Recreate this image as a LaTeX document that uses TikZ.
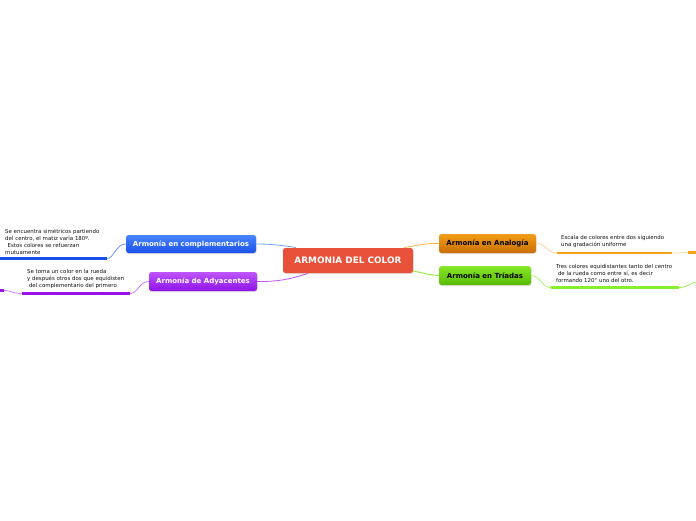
\documentclass[tikz,border=0pt]{standalone}
\usepackage{fontspec}
\setmainfont{DejaVu Sans}
\usetikzlibrary{shadows,calc}
\definecolor{rootc}{HTML}{E8523A}
\definecolor{bluetop}{HTML}{4A86FF}
\definecolor{bluebot}{HTML}{1A50EA}
\definecolor{purtop}{HTML}{BE55FF}
\definecolor{purbot}{HTML}{8E12E6}
\definecolor{orgtop}{HTML}{F29E18}
\definecolor{orgbot}{HTML}{C96E00}
\definecolor{grntop}{HTML}{88E82A}
\definecolor{grnbot}{HTML}{58BA00}
\definecolor{blueline}{HTML}{1A4FE8}
\definecolor{purline}{HTML}{9B12E8}
\definecolor{orgline}{HTML}{F7A11A}
\definecolor{grnline}{HTML}{86F02A}
\definecolor{txt}{HTML}{111111}
\tikzset{
  boxbase/.style={rounded corners=2.5pt, inner sep=0pt, font=\fontsize{7}{8}\selectfont\bfseries,
    drop shadow={shadow xshift=0.6pt, shadow yshift=-1pt, opacity=0.25}},
  rootbox/.style={boxbase, fill=rootc, text=white, minimum width=130pt, minimum height=25pt,
    font=\fontsize{8.9}{10}\selectfont\bfseries},
  bluebox/.style={boxbase, top color=bluetop, bottom color=bluebot, text=white, minimum width=130pt, minimum height=18pt},
  purbox/.style={boxbase, top color=purtop, bottom color=purbot, text=white, minimum width=108pt, minimum height=19pt},
  orgbox/.style={boxbase, top color=orgtop, bottom color=orgbot, text=black, minimum width=97pt, minimum height=19pt},
  grnbox/.style={boxbase, top color=grntop, bottom color=grnbot, text=black, minimum width=92pt, minimum height=19pt},
  leaf/.style={anchor=north west, inner sep=0pt, align=left, text=txt, font=\fontsize{5.45}{7}\selectfont},
  conn/.style={line width=0.8pt},
  uline/.style={line width=2.6pt},
}
\begin{document}
\begin{tikzpicture}[x=1pt,y=-1pt]
\useasboundingbox (0,0) rectangle (696,520);
% connectors from root
\coordinate (rb) at (296,247.5);
\coordinate (rp) at (308,273.5);
\coordinate (ro) at (404,247.5);
\coordinate (rg) at (413,271);
% boxes
\node[bluebox] (blue) at (191,244) {Armonía en complementarios};
\node[purbox] (pur) at (203,281.5) {Armonía de Adyacentes};
\node[orgbox] (org) at (487.5,243.5) {Armonía en Analogía};
\node[grnbox] (grn) at (485,275.5) {Armonía en Tríadas};
\draw[conn, color=bluetop!80] (blue.east) .. controls (275,244) and (285,246) .. (rb);
\draw[conn, color=purtop] (pur.east) .. controls (285,282) and (298,276) .. (rp);
\draw[conn, color=orgtop!80] (org.west) .. controls (425,243) and (415,246) .. (ro);
\draw[conn, color=grnline] (grn.west) .. controls (428,275) and (420,272) .. (rg);
\node[rootbox] (root) at (348,260.5) {ARMONIA DEL COLOR};
% leaves
\node[leaf] (lblue) at (5,228.5) {Se encuentra simétricos partiendo\\del centro, el matiz varía 180º.\\\hspace*{2.5pt}Estos colores se refuerzan\\mutuamente};
\node[leaf] (lpur) at (27,269.5) {Se toma un color en la rueda\\y después otros dos que equidisten\\\hspace*{1.8pt}del complementario del primero};
\node[leaf] (lorg) at (561,235.5) {Escala de colores entre dos siguiendo\\una gradación uniforme};
\node[leaf] (lgrn) at (556,264.5) {Tres colores equidistantes tanto del centro\\\hspace*{1.8pt}de la rueda como entre sí, es decir\\formando 120° uno del otro.};
% underlines
\coordinate (ub1) at (0,258.5); \coordinate (ub2) at (107,258.5);
\coordinate (up1) at (22,293.5); \coordinate (up2) at (130,293.5);
\coordinate (uo1) at (557,253); \coordinate (uo2) at (672,253);
\coordinate (ug1) at (551,287.5); \coordinate (ug2) at (679,287.5);
\draw[uline, blueline] (ub1) -- (ub2);
\draw[uline, purline] (up1) -- (up2);
\draw[uline, orgline] (uo1) -- (uo2);
\draw[uline, grnline] (ug1) -- (ug2);
% box to leaf
\draw[conn, bluetop!80] (blue.west) .. controls (116,244) and (114,258.5) .. (ub2);
\draw[conn, purtop!80] (pur.west) .. controls (139,281.5) and (138,293.5) .. (up2);
\draw[conn, orgtop!45] (org.east) .. controls (547,243.5) and (547,253) .. (uo1);
\draw[conn, grnline!70] (grn.east) .. controls (541,275.5) and (541,287.5) .. (ug1);
% continuations off the edge
\coordinate (oe) at (688,252.5); \coordinate (oe2) at (696,252.5);
\draw[conn, orgtop!35] (uo2) .. controls (680,253) and (682,252.5) .. (oe);
\draw[uline, orgline] (oe) -- (oe2);
\coordinate (ge) at (696,282);
\draw[conn, grnline!80] (ug2) .. controls (688,287.5) and (690,283) .. (ge);
\coordinate (pe) at (4,290.5); \coordinate (pe2) at (0,290.5);
\draw[conn, purtop!70] (up1) .. controls (12,293.5) and (12,290.5) .. (pe);
\draw[uline, purline] (pe) -- (pe2);
\end{tikzpicture}
\end{document}
